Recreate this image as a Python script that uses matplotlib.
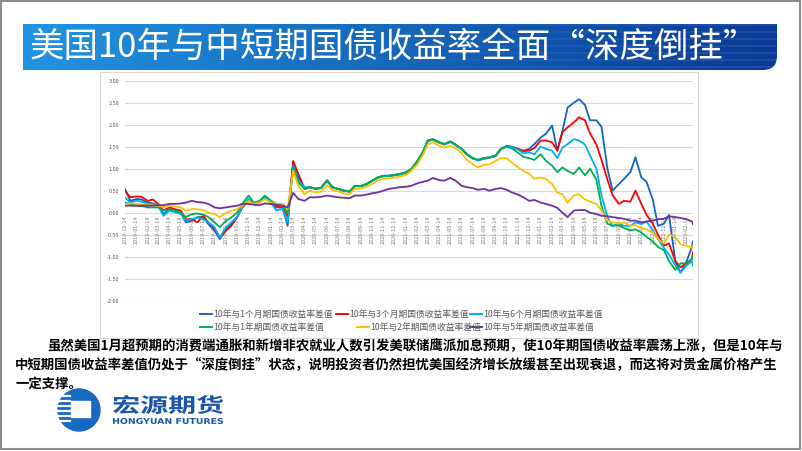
import matplotlib
matplotlib.use("Agg")
import matplotlib.pyplot as plt
import numpy as np
import pandas as pd
from matplotlib.path import Path
from matplotlib.patches import PathPatch, Rectangle, Circle
from matplotlib.transforms import offset_copy, Affine2D
from matplotlib.textpath import TextPath
from matplotlib.font_manager import FontProperties

plt.rcParams['font.family'] = ['Noto Sans CJK SC', 'DejaVu Sans']
plt.rcParams['axes.unicode_minus'] = False

title = "美国10年与中短期国债收益率全面“深度倒挂”"
body = [
    "虽然美国1月超预期的消费端通胀和新增非农就业人数引发美联储鹰派加息预期，使10年期国债收益率震荡上涨，但是10年与",
    "中短期国债收益率差值仍处于“深度倒挂”状态，说明投资者仍然担忧美国经济增长放缓甚至出现衰退，而这将对贵金属价格产生",
    "一定支撑。",
]

# sample dates: 14th and 28th of every month, plus the last print
months = pd.period_range("2018-12", "2023-02", freq="M")
dates = []
for p in months:
    dates.append(pd.Timestamp(p.year, p.month, 14))
    dates.append(pd.Timestamp(p.year, p.month, 28))
dates.append(pd.Timestamp(2023, 3, 3))
tick_dates = [pd.Timestamp(p.year, p.month, 14) for p in months]
tick_labels = [d.strftime("%Y-%m-%d") for d in tick_dates]

spread_1m = [0.54, 0.27, 0.31, 0.30, 0.23, 0.21, 0.17, -0.03, 0.08, 0.05,
             0.00, -0.22, -0.18, -0.10, -0.10, -0.26, -0.41, -0.60, -0.37, -0.26,
             -0.10, 0.12, 0.31, 0.20, 0.23, 0.35, 0.23, 0.12, 0.12, -0.30,
             1.17, 0.80, 0.54, 0.58, 0.54, 0.56, 0.74, 0.58, 0.54, 0.50,
             0.48, 0.61, 0.61, 0.65, 0.73, 0.80, 0.84, 0.84, 0.86, 0.88,
             0.92, 0.99, 1.18, 1.37, 1.64, 1.67, 1.60, 1.56, 1.62, 1.55,
             1.45, 1.33, 1.24, 1.20, 1.24, 1.26, 1.30, 1.45, 1.52, 1.50,
             1.45, 1.41, 1.45, 1.56, 1.71, 1.79, 1.98, 1.41, 1.86, 2.39,
             2.50, 2.58, 2.45, 2.10, 2.10, 1.95, 1.00, 0.50, 0.65, 0.77,
             0.92, 1.26, 0.80, 0.70, 0.30, -0.30, -0.25, -0.05, -1.10, -1.36,
             -1.10, -0.78, -0.65]
spread_3m = [0.50, 0.35, 0.37, 0.36, 0.27, 0.30, 0.20, 0.05, 0.12, 0.08,
             0.05, -0.15, -0.15, -0.22, -0.07, -0.22, -0.37, -0.56, -0.41, -0.30,
             -0.10, 0.12, 0.27, 0.20, 0.23, 0.35, 0.23, 0.15, 0.16, -0.10,
             1.17, 0.88, 0.54, 0.58, 0.54, 0.56, 0.73, 0.58, 0.54, 0.50,
             0.48, 0.61, 0.60, 0.64, 0.72, 0.79, 0.83, 0.83, 0.85, 0.87,
             0.91, 0.98, 1.17, 1.36, 1.63, 1.66, 1.59, 1.55, 1.61, 1.54,
             1.44, 1.32, 1.23, 1.19, 1.23, 1.25, 1.29, 1.44, 1.51, 1.49,
             1.44, 1.40, 1.41, 1.47, 1.64, 1.64, 1.60, 1.41, 1.83, 1.94,
             2.05, 2.17, 2.10, 1.80, 1.55, 1.20, 0.75, 0.40, 0.20, 0.27,
             0.25, 0.50, 0.20, -0.05, -0.25, -0.50, -0.75, -0.70, -1.10, -1.24,
             -1.15, -1.05, -0.90]
spread_6m = [0.35, 0.23, 0.27, 0.25, 0.20, 0.19, 0.16, -0.07, 0.05, 0.01,
             -0.03, -0.18, -0.14, -0.11, -0.15, -0.22, -0.33, -0.56, -0.33, -0.22,
             -0.10, 0.12, 0.31, 0.20, 0.23, 0.35, 0.23, 0.05, 0.09, -0.22,
             1.07, 0.73, 0.58, 0.58, 0.55, 0.56, 0.72, 0.58, 0.54, 0.50,
             0.48, 0.61, 0.60, 0.64, 0.72, 0.79, 0.83, 0.83, 0.85, 0.87,
             0.91, 0.98, 1.17, 1.36, 1.63, 1.66, 1.59, 1.55, 1.61, 1.54,
             1.44, 1.32, 1.23, 1.19, 1.23, 1.25, 1.29, 1.44, 1.51, 1.49,
             1.43, 1.35, 1.37, 1.33, 1.50, 1.45, 1.41, 1.24, 1.48, 1.56,
             1.67, 1.64, 1.55, 1.30, 1.00, 0.40, -0.10, -0.30, -0.25, -0.30,
             -0.30, -0.22, -0.26, -0.20, -0.40, -0.60, -0.80, -0.95, -1.20, -1.36,
             -1.20, -1.10, -1.20]
spread_1y = [0.23, 0.20, 0.16, 0.15, 0.12, 0.12, 0.12, 0.05, 0.08, 0.05,
             0.01, -0.10, -0.03, -0.02, -0.04, -0.10, -0.22, -0.33, -0.18, -0.11,
             0.00, 0.20, 0.39, 0.23, 0.27, 0.39, 0.27, 0.20, 0.20, -0.03,
             1.03, 0.69, 0.54, 0.58, 0.55, 0.56, 0.72, 0.58, 0.54, 0.51,
             0.49, 0.61, 0.61, 0.65, 0.73, 0.80, 0.84, 0.84, 0.86, 0.88,
             0.92, 0.99, 1.18, 1.37, 1.64, 1.67, 1.60, 1.56, 1.62, 1.55,
             1.45, 1.33, 1.24, 1.20, 1.24, 1.26, 1.30, 1.45, 1.50, 1.46,
             1.36, 1.27, 1.24, 1.20, 1.33, 1.18, 1.07, 0.92, 1.03, 0.95,
             0.88, 1.03, 0.85, 1.00, 0.75, 0.15, -0.25, -0.30, -0.28, -0.35,
             -0.40, -0.38, -0.45, -0.55, -0.65, -0.78, -0.85, -1.10, -1.30, -1.15,
             -1.15, -1.05, -1.00]
spread_2y = [0.20, 0.21, 0.20, 0.19, 0.18, 0.17, 0.16, 0.12, 0.16, 0.14,
             0.12, 0.05, 0.08, 0.08, 0.06, 0.00, -0.03, -0.10, 0.00, 0.04,
             0.08, 0.16, 0.27, 0.20, 0.23, 0.31, 0.23, 0.20, 0.20, 0.08,
             0.95, 0.61, 0.42, 0.50, 0.46, 0.48, 0.62, 0.52, 0.48, 0.44,
             0.42, 0.54, 0.55, 0.59, 0.65, 0.73, 0.77, 0.78, 0.80, 0.82,
             0.86, 0.95, 1.10, 1.30, 1.55, 1.60, 1.52, 1.48, 1.52, 1.47,
             1.35, 1.20, 1.10, 1.03, 1.09, 1.10, 1.18, 1.24, 1.24, 1.14,
             1.03, 0.95, 0.88, 0.77, 0.80, 0.77, 0.65, 0.46, 0.42, 0.23,
             0.39, 0.42, 0.30, 0.25, 0.20, 0.05, -0.18, -0.22, -0.25, -0.22,
             -0.30, -0.28, -0.35, -0.38, -0.45, -0.60, -0.70, -0.50, -0.55, -0.72,
             -0.75, -0.80, -0.75]
spread_5y = [0.16, 0.16, 0.16, 0.16, 0.16, 0.16, 0.17, 0.17, 0.20, 0.20,
             0.21, 0.23, 0.27, 0.24, 0.23, 0.20, 0.12, 0.10, 0.12, 0.14,
             0.16, 0.20, 0.20, 0.18, 0.17, 0.21, 0.20, 0.18, 0.16, 0.12,
             0.45, 0.31, 0.27, 0.35, 0.35, 0.36, 0.39, 0.37, 0.35, 0.34,
             0.33, 0.39, 0.39, 0.41, 0.44, 0.46, 0.50, 0.54, 0.56, 0.58,
             0.59, 0.61, 0.67, 0.70, 0.73, 0.79, 0.74, 0.73, 0.79, 0.73,
             0.61, 0.58, 0.56, 0.52, 0.54, 0.50, 0.54, 0.56, 0.52, 0.46,
             0.41, 0.35, 0.27, 0.29, 0.23, 0.20, 0.16, 0.11, 0.00, -0.10,
             0.05, 0.06, 0.06, 0.00, -0.03, -0.07, -0.08, -0.10, -0.12, -0.14,
             -0.18, -0.18, -0.22, -0.20, -0.18, -0.15, -0.14, -0.08, -0.10, -0.12,
             -0.15, -0.20, -0.26]

series = [spread_1m, spread_3m, spread_6m, spread_1y, spread_2y, spread_5y]
names = ["10年与1个月期国债收益率差值", "10年与3个月期国债收益率差值", "10年与6个月期国债收益率差值",
         "10年与1年期国债收益率差值", "10年与2年期国债收益率差值", "10年与5年期国债收益率差值"]
colors = ["#1565c0", "#ff0000", "#00b0f0", "#00b050", "#ffc000", "#7030a0"]


def stretched_text(ax, s, x, y, w, h, prop, color):
    # text path squeezed into a w x h box, baseline-left at (x, y) in pixel coords
    tp = TextPath((0, 0), s, size=20, prop=prop)
    ext = tp.get_extents()
    tr = Affine2D().translate(-ext.x0, -ext.y0).scale(w / ext.width, -h / ext.height).translate(x, y)
    ax.add_patch(PathPatch(tr.transform_path(tp), fc=color, ec="none"))


fig = plt.figure(figsize=(8.02, 4.51), dpi=100)

# page layer in pixel coordinates
bg = fig.add_axes([0, 0, 1, 1])
bg.set_xlim(0, 802)
bg.set_ylim(451, 0)
bg.axis("off")
bg.add_patch(Rectangle((1, 1), 799, 448, fill=False, ec="#8c8c8c", lw=1.5))

# title band with gradient and right rounded corner
t = np.linspace(0, 1, 400)
c_left = np.array([0.13, 0.58, 0.88])
c_right = np.array([0.04, 0.22, 0.58])
row = c_left + (c_right - c_left) * t[:, None]
img = np.repeat(row[None, :, :], 46, axis=0)
stripe = (np.arange(46) % 7 < 2)[:, None] * np.clip((t - 0.45) / 0.55, 0, 1)[None, :]
img = np.clip(img + 0.07 * stripe[:, :, None], 0, 1)
verts = [(23, 24), (777, 24), (777, 56), (777, 70), (763, 70), (23, 70), (23, 24)]
codes = [Path.MOVETO, Path.LINETO, Path.LINETO, Path.CURVE3, Path.CURVE3, Path.LINETO, Path.CLOSEPOLY]
band = PathPatch(Path(verts, codes), fc="none", ec="none")
bg.add_patch(band)
im = bg.imshow(img, extent=[23, 777, 70, 24], aspect="auto", interpolation="bilinear")
im.set_clip_path(band)
bg.set_xlim(0, 802)
bg.set_ylim(451, 0)
bg.text(30, 47, title, color="white", fontsize=24.8, va="center", ha="left")

# chart frame
bg.add_patch(Rectangle((100, 72), 598, 266, fill=False, ec="#d9d9d9", lw=0.8))

# legend (two rows, drawn by hand to keep Excel's flow)
leg_pos = [(200, 314), (336, 314), (470, 314), (200, 327), (357, 327), (470, 327)]
for (lx, ly), c, n in zip(leg_pos, colors, names):
    bg.plot([lx, lx + 12], [ly, ly], color=c, lw=1.4)
    bg.text(lx + 13, ly, n, fontsize=6.3, color="#595959", va="center", ha="left")

# body text
bg.text(47, 346, body[0], fontsize=9.65, fontweight="bold", va="center", ha="left")
bg.text(15, 365, body[1], fontsize=9.65, fontweight="bold", va="center", ha="left")
bg.text(15, 384, body[2], fontsize=9.65, fontweight="bold", va="center", ha="left")

# logo
bg.add_patch(Circle((79, 410), 21, color="#1769c2"))
for yy in [396, 401, 406, 411, 416, 421]:
    bg.plot([56, 70], [yy, yy], color="white", lw=1.6)
bg.add_patch(Rectangle((71, 401), 19, 16, color="white"))
stretched_text(bg, "宏源期货", 113, 414, 110, 19,
               FontProperties(family="Noto Sans CJK SC", weight="bold"), "#1a55a8")
stretched_text(bg, "HONGYUAN FUTURES", 113, 424, 110, 6,
               FontProperties(family="DejaVu Sans", weight="bold"), "#1a55a8")

# chart
ax = fig.add_axes([125 / 802, (451 - 300.7) / 451, 568 / 802, 220 / 451])
ax.patch.set_alpha(0)
for s, c in zip(series, colors):
    ax.plot(dates, s, color=c, lw=1.3, zorder=3)
ax.set_ylim(-2, 3)
ax.set_xlim(dates[0], dates[-1])
ax.set_yticks(np.arange(-2, 3.01, 0.5))
ax.set_yticklabels(["%.2f" % v for v in np.arange(-2, 3.01, 0.5)])
ax.yaxis.grid(True, color="#d9d9d9", lw=0.8, zorder=0)
ax.set_axisbelow(True)
ax.tick_params(axis="y", length=0, labelsize=4, colors="#595959", pad=4)
ax.set_xticks([])
for sp in ax.spines.values():
    sp.set_visible(False)
lab_tr = offset_copy(ax.transData, fig=fig, y=-2, units="points")
for d, lab in zip(tick_dates, tick_labels):
    ax.text(d, 0, lab, rotation=90, fontsize=4, color="#7f7f7f", ha="center", va="top",
            transform=lab_tr, zorder=1)

fig.savefig("out.png", dpi=100)
